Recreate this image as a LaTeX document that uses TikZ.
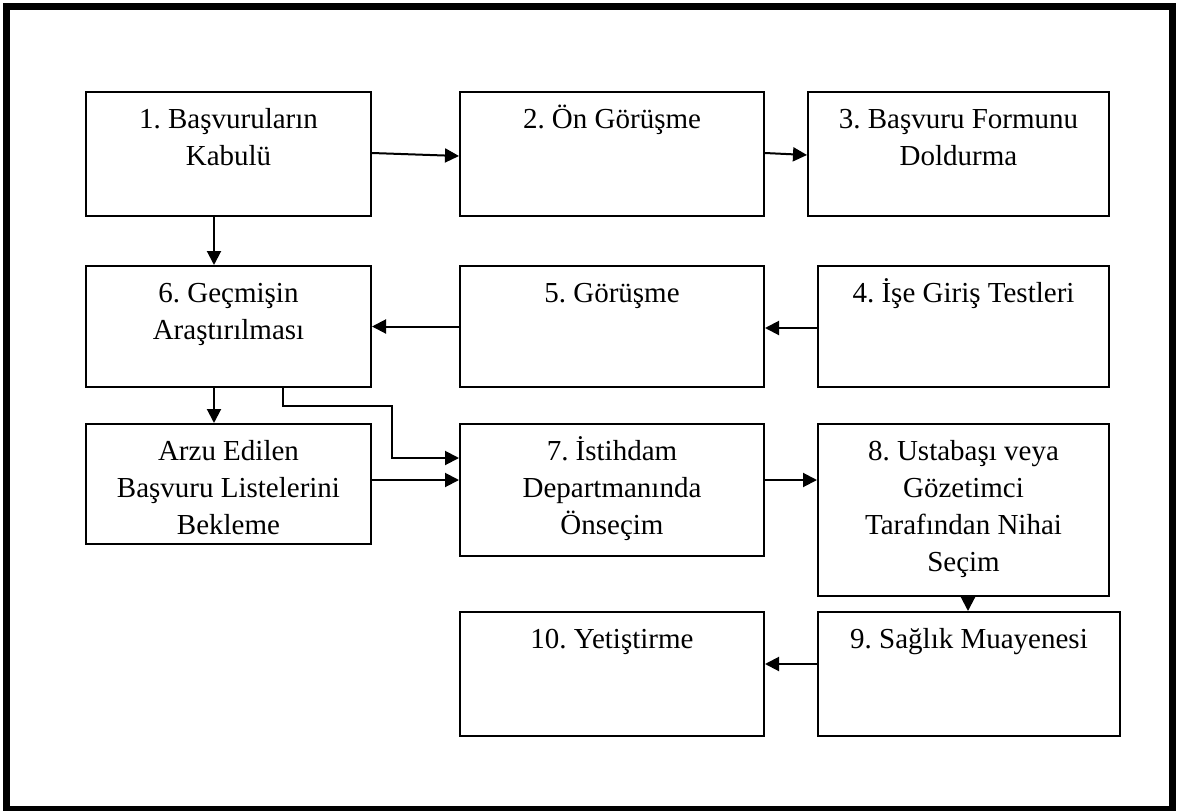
\documentclass[tikz,border=0pt]{standalone}
\usepackage{fontspec}
\setmainfont{Liberation Serif}
\usepackage{tikz}
\usetikzlibrary{arrows.meta}
\frenchspacing

\newcommand{\stagetext}[3]{\parbox[c][#2][t]{#1}{\centering\rule{0pt}{36pt}#3}}

\begin{document}
\begin{tikzpicture}[
            x = 1pt, y = -1pt, % pixel grid
            > = {Triangle[length=14pt,width=14pt]}, % arrow head style
            line width = 2pt, % line style
            stage/.style = {shape=rectangle, draw=black, line width=2pt, inner sep=0pt,
                            font=\fontsize{29}{37}\selectfont}
        ]
\useasboundingbox (0,0) rectangle (1184,811);
\draw[line width=6.5pt] (6.5,6.5) rectangle (1172.5,809);

\node[stage] (s1) at (228.5,154) {\stagetext{285pt}{124pt}{1. Başvuruların\\Kabulü}};
\node[stage] (s2) at (612,154) {\stagetext{304pt}{124pt}{2. Ön Görüşme}};
\node[stage] (s3) at (958.5,154) {\stagetext{301pt}{124pt}{3. Başvuru Formunu\\Doldurma}};

\node[stage] (s6) at (228.5,326.5) {\stagetext{285pt}{121pt}{6. Geçmişin\\Araştırılması}};
\node[stage] (s5) at (612,326.5) {\stagetext{304pt}{121pt}{5. Görüşme}};
\node[stage] (s4) at (963.5,326.5) {\stagetext{291pt}{121pt}{4. İşe Giriş Testleri}};

\node[stage] (wait) at (228.5,484) {\stagetext{285pt}{120pt}{Arzu Edilen\\Başvuru Listelerini\\Bekleme}};
\node[stage] (s7) at (612,490) {\stagetext{304pt}{132pt}{7. İstihdam\\Departmanında\\Önseçim}};
\node[stage] (s8) at (963.5,510) {\stagetext{291pt}{172pt}{8. Ustabaşı veya\\Gözetimci\\Tarafından Nihai\\Seçim}};

\node[stage] (s10) at (612,674) {\stagetext{304pt}{124pt}{10. Yetiştirme}};
\node[stage] (s9) at (969,674) {\stagetext{302pt}{124pt}{9. Sağlık Muayenesi}};

\coordinate (bend) at (392,406);

 \path [->] ([yshift=1pt]s1.east) edge ([yshift=-2pt]s2.west);
 \path [->] ([yshift=1pt]s2.east) edge ([yshift=-1pt]s3.west);
 \path [->] ([xshift=-14.5pt]s1.south) edge ([xshift=-14.5pt]s6.north);
 \path [->] ([yshift=-1.5pt]s4.west) edge ([yshift=-1.5pt]s5.east);
 \path [->] (s5.west) edge (s6.east);
 \path [->] ([xshift=-14.5pt]s6.south) edge ([xshift=-14.5pt]wait.north);
 \draw [->] ([xshift=54.5pt]s6.south) |- (bend) |- ([yshift=32pt]s7.west);
 \path [->] ([yshift=4pt]wait.east) edge ([yshift=10pt]s7.west);
 \path [->] ([yshift=10pt]s7.east) edge ([yshift=30pt]s8.west);
 \path [->] ([xshift=4.5pt]s8.south) edge ([xshift=-1pt]s9.north);
 \path [->] ([yshift=10pt]s9.west) edge ([yshift=10pt]s10.east);
\end{tikzpicture}
\end{document}
